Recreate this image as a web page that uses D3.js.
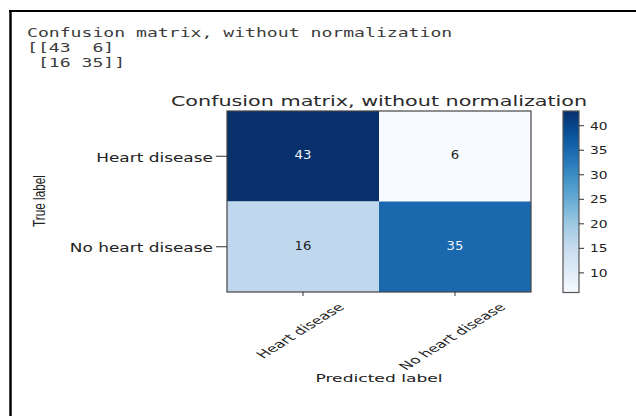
<!DOCTYPE html>
<html>
<head>
<meta charset="utf-8">
<script src="https://cdn.jsdelivr.net/npm/d3@7"></script>
<style>
  html, body { margin: 0; padding: 0; background: #fff; }
  svg { display: block; }
</style>
</head>
<body>
<svg id="chart" width="636" height="416"></svg>
<script>
// ---- data ----
const trueLabels = ["Heart disease", "No heart disease"];
const predictedLabels = ["Heart disease", "No heart disease"];
const matrixValues = [[43, 6], [16, 35]];
const colorbarTicks = [10, 15, 20, 25, 30, 35, 40];
const chartTitle = "Confusion matrix, without normalization";
const consoleLines = ["Confusion matrix, without normalization", "[[43  6]", " [16 35]]"];
const xAxisTitle = "Predicted label";
const yAxisTitle = "True label";

// ---- layout ----
const svg = d3.select("#chart");
const M = { left: 227, right: 531, top: 111, bottom: 292 };
const CB = { left: 563, right: 579 };

const flat = matrixValues.flat();
const vmin = d3.min(flat), vmax = d3.max(flat);

const x = d3.scaleBand().domain(predictedLabels).range([M.left, M.right]);
const y = d3.scaleBand().domain(trueLabels).range([M.top, M.bottom]);
const cbScale = d3.scaleLinear().domain([vmin, vmax]).range([M.bottom + 0.5, M.top]);
const blues = d3.schemeBlues[9];
const color = d3.scaleLinear()
  .domain(d3.range(9).map(i => vmin + i * (vmax - vmin) / 8))
  .range(blues)
  .interpolate(d3.interpolateRgb);

// helper: horizontally stretched text
function sText(parent, tx, ty, str, opts) {
  const g = parent.append("g").attr("transform", `translate(${tx},${ty}) scale(${opts.sx || 1},${opts.sy || 1})` + (opts.rot ? ` rotate(${opts.rot})` : ""));
  const t = g.append("text")
    .attr("x", 0).attr("y", 0)
    .attr("font-family", opts.family || "DejaVu Sans, sans-serif")
    .attr("font-size", opts.size)
    .attr("fill", opts.fill || "#222")
    .attr("text-anchor", opts.anchor || "start")
    .style("white-space", "pre")
    .text(str);
  if (opts.baseline) t.attr("dominant-baseline", opts.baseline);
  return t;
}

// outer frame (top and left lines)
svg.append("line").attr("x1", 9).attr("x2", 636).attr("y1", 11).attr("y2", 11)
  .attr("stroke", "#000").attr("stroke-width", 2);
svg.append("line").attr("x1", 10.5).attr("x2", 10.5).attr("y1", 10).attr("y2", 416)
  .attr("stroke", "#000").attr("stroke-width", 2.5);

// console text
const consoleBaselines = [37, 52, 67];
consoleLines.forEach((ln, i) => {
  sText(svg, 27, consoleBaselines[i], ln, { size: 12, sx: 1.51, family: "DejaVu Sans Mono, Liberation Mono, monospace", fill: "#3c3c3c" });
});

// title
sText(svg, (M.left + M.right) / 2, 106, chartTitle, { size: 14, sx: 1.48, anchor: "middle", fill: "#2a2a2a" });

// cells
const cells = [];
trueLabels.forEach((t, i) => predictedLabels.forEach((p, j) => cells.push({ t, p, v: matrixValues[i][j] })));
svg.append("g").selectAll("rect").data(cells).join("rect")
  .attr("x", d => x(d.p)).attr("y", d => y(d.t))
  .attr("width", x.bandwidth()).attr("height", y.bandwidth())
  .attr("fill", d => color(d.v));
svg.append("rect").attr("x", M.left).attr("y", M.top)
  .attr("width", M.right - M.left).attr("height", M.bottom - M.top)
  .attr("fill", "none").attr("stroke", "#444").attr("stroke-width", 1.2);

// cell labels
const thresh = (vmin + vmax) / 2;
cells.forEach(d => {
  sText(svg, x(d.p) + x.bandwidth() / 2, y(d.t) + y.bandwidth() / 2 - 1.5, String(d.v),
    { size: 12, sx: 1.1, anchor: "middle", baseline: "central", fill: d.v > thresh ? "#eef4fb" : "#222" });
});

// y ticks
trueLabels.forEach(t => {
  const yc = y(t) + y.bandwidth() / 2;
  svg.append("line").attr("x1", M.left - 11).attr("x2", M.left).attr("y1", yc).attr("y2", yc)
    .attr("stroke", "#333").attr("stroke-width", 1);
  sText(svg, M.left - 14, yc + 1, t, { size: 12.1, sx: 1.4, anchor: "end", baseline: "central" });
});

// x ticks
predictedLabels.forEach(p => {
  const xc = x(p) + x.bandwidth() / 2;
  svg.append("line").attr("x1", xc).attr("x2", xc).attr("y1", M.bottom).attr("y2", M.bottom + 4)
    .attr("stroke", "#333").attr("stroke-width", 1);
  const tmp = svg.append("text").attr("font-family", "DejaVu Sans, sans-serif").attr("font-size", 10.5).text(p);
  const L = tmp.node().getComputedTextLength();
  tmp.remove();
  const cy = 301.5 + (L + 10.5) * 0.3536;
  sText(svg, xc - 3, cy, p, { size: 10.5, sx: 1.6, rot: -45, anchor: "middle", baseline: "central" });
});

// axis titles
sText(svg, (M.left + M.right) / 2, 382, xAxisTitle, { size: 10.5, sx: 1.63, anchor: "middle" });
{
  const tmp = svg.append("text").attr("font-family", "Liberation Sans Narrow, Liberation Sans, Arial, sans-serif").attr("font-size", 12).text(yAxisTitle);
  const L = tmp.node().getComputedTextLength();
  tmp.remove();
  const g = svg.append("g").attr("transform", `translate(39,201) rotate(-90)`);
  g.append("text")
    .attr("transform", `scale(${52 / L},1.35)`)
    .attr("font-family", "Liberation Sans Narrow, Liberation Sans, Arial, sans-serif")
    .attr("font-size", 12).attr("fill", "#222")
    .attr("text-anchor", "middle").attr("dominant-baseline", "central")
    .text(yAxisTitle);
}

// colorbar
const defs = svg.append("defs");
const grad = defs.append("linearGradient").attr("id", "cbgrad")
  .attr("x1", 0).attr("y1", 1).attr("x2", 0).attr("y2", 0);
d3.range(0, 1.0001, 0.05).forEach(f => {
  grad.append("stop").attr("offset", f).attr("stop-color", color(vmin + f * (vmax - vmin)));
});
svg.append("rect").attr("x", CB.left).attr("y", cbScale(vmax))
  .attr("width", CB.right - CB.left).attr("height", cbScale(vmin) - cbScale(vmax))
  .attr("fill", "url(#cbgrad)").attr("stroke", "#555").attr("stroke-width", 1.2);
colorbarTicks.forEach(v => {
  const yy = cbScale(v);
  svg.append("line").attr("x1", CB.right).attr("x2", CB.right + 5).attr("y1", yy).attr("y2", yy)
    .attr("stroke", "#333").attr("stroke-width", 1);
  sText(svg, CB.right + 11, yy + 0.5, String(v), { size: 10, sx: 1.38, baseline: "central" });
});
</script>
</body>
</html>
